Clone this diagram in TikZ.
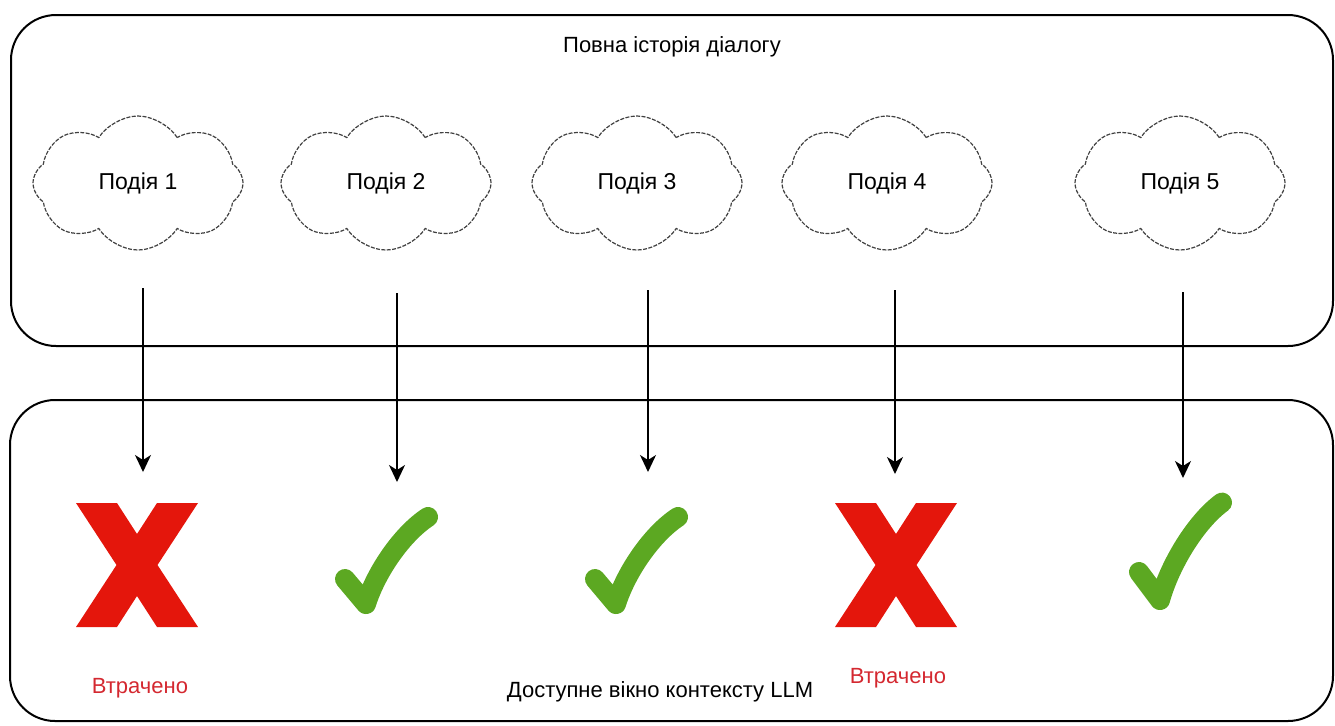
\documentclass[tikz,border=0pt]{standalone}
\usepackage{fontspec}
\setmainfont{Liberation Sans}
\usetikzlibrary{shapes.symbols,arrows.meta}

\definecolor{crossred}{RGB}{228,22,12}
\definecolor{tickgreen}{RGB}{92,168,34}
\definecolor{losttext}{RGB}{212,40,48}

\begin{document}
\begin{tikzpicture}[x=0.5pt,y=-0.5pt,
  panel/.style={draw=black, line width=1pt, rounded corners=22.5pt},
  event/.style={cloud, cloud puffs=8, cloud puff arc=115, cloud ignores aspect,
    draw=black!75, dash pattern=on 2pt off 0.7pt, line width=0.6pt,
    minimum width=105pt, minimum height=67pt, inner sep=0pt,
    font=\fontsize{11.5}{14}\selectfont},
  caption/.style={font=\fontsize{11}{13}\selectfont},
  lost/.style={font=\fontsize{11}{13}\selectfont, text=losttext},
  flow/.style={draw=black, line width=0.8pt,
    -{Stealth[width=8pt,length=8.5pt,inset=2.5pt]}},
  cross/.pic={
    \fill[crossred] (-61,-62) -- (-20,-62) -- (0,-31) -- (20,-62) -- (61,-62)
      -- (20.5,0) -- (61,62) -- (20,62) -- (0,31) -- (-20,62) -- (-61,62)
      -- (-20.5,0) -- cycle;
  },
  tick/.pic={
    \draw[tickgreen, line width=10pt, line cap=round, line join=round]
      (-21,-25) -- (0,0) .. controls (10,-32) and (36,-70) .. (62,-87);
  }
]
\useasboundingbox (0,0) rectangle (1335,725);

% the two panels
\draw[panel] (11,15) rectangle (1333,346);
\draw[panel] (10,400) rectangle (1333,721);
\node[caption] (histtitle) at (672,47) {Повна історія діалогу};
\node[caption] (ctxtitle) at (660,692) {Доступне вікно контексту LLM};

% events of the dialogue
\node[event] (e1) at (138,183) {Подія 1};
\node[event] (e2) at (386,183) {Подія 2};
\node[event] (e3) at (637,183) {Подія 3};
\node[event] (e4) at (887,183) {Подія 4};
\node[event] (e5) at (1180,183) {Подія 5};

% arrow ends
\coordinate (s1) at (143,288);
\coordinate (s2) at (397,293);
\coordinate (s3) at (648,290);
\coordinate (s4) at (895,290);
\coordinate (s5) at (1183,292);
\coordinate (t1) at (143,472);
\coordinate (t2) at (397,482);
\coordinate (t3) at (648,472);
\coordinate (t4) at (895,474);
\coordinate (t5) at (1183,478);
\foreach \i in {1,...,5} \draw[flow] (s\i) -- (t\i);

% outcome marks
\pic at (137,565) {cross};
\pic at (366,604) {tick};
\pic at (616,604) {tick};
\pic at (896,565) {cross};
\pic[yscale=1.12] at (1160,600) {tick};

\node[lost] (lost1) at (140,688) {Втрачено};
\node[lost] (lost4) at (898,678) {Втрачено};
\end{tikzpicture}
\end{document}
